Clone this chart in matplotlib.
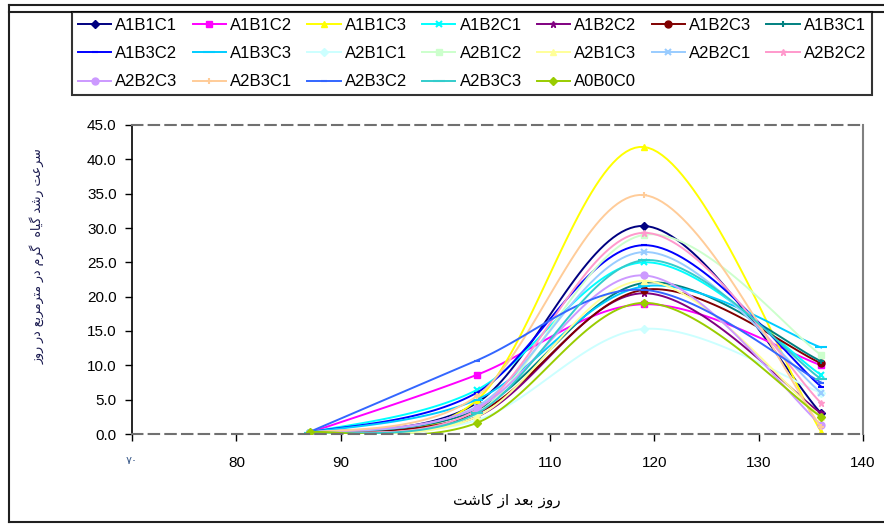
import numpy as np
import matplotlib.pyplot as plt
from matplotlib.lines import Line2D

plt.rcParams['font.family'] = ['Liberation Sans', 'DejaVu Sans']

# sampling days (days after planting)
days = [87, 103, 119, 136]

names = ['A1B1C1', 'A1B1C2', 'A1B1C3', 'A1B2C1', 'A1B2C2', 'A1B2C3', 'A1B3C1',
         'A1B3C2', 'A1B3C3', 'A2B1C1', 'A2B1C2', 'A2B1C3', 'A2B2C1', 'A2B2C2',
         'A2B2C3', 'A2B3C1', 'A2B3C2', 'A2B3C3', 'A0B0C0']

# crop growth rate at each sampling day, one value per treatment (same order as names)
v87 = [0.2, 0.2, 0.1, 0.2, 0.1, 0.2, 0.1, 0.2, 0.2, 0.1, 0.2, 0.1, 0.2, 0.2, 0.2, 0.1, 0.3, 0.1, 0.3]
v103 = [4.5, 8.6, 4.9, 6.4, 2.5, 3.0, 3.5, 6.0, 5.0, 2.0, 3.0, 2.5, 4.0, 3.5, 3.8, 5.5, 10.7, 3.0, 1.6]
v119 = [30.3, 18.9, 41.8, 25.0, 20.5, 21.0, 22.0, 27.5, 21.5, 15.3, 29.0, 22.3, 26.5, 29.3, 23.1, 34.8, 21.0, 25.3, 19.1]
v136 = [3.0, 10.0, 0.3, 8.6, 3.0, 10.3, 10.6, 6.9, 12.6, 6.0, 11.5, 2.5, 6.0, 4.5, 1.3, 1.0, 7.5, 8.0, 2.5]

xlabel = 'روز بعد از کاشت'
ylabel = 'سرعت رشد گیاه  گرم در مترمربع در روز'

# Excel 2003 style line palette and marker cycle
colors = ['#000080', '#FF00FF', '#FFFF00', '#00FFFF', '#800080', '#800000', '#008080',
          '#0000FF', '#00CCFF', '#CCFFFF', '#CCFFCC', '#FFFF99', '#99CCFF', '#FF99CC',
          '#CC99FF', '#FFCC99', '#3366FF', '#33CCCC', '#99CC00']
markers = ['D', 's', '^', 'x', '*', 'o', '+', '_', '_',
           'D', 's', '^', 'x', '*', 'o', '+', '_', '_', 'D']

# Arabic/Persian presentation forms: isolated, final, initial, medial
forms = {
    'ا': ('\uFE8D', '\uFE8E', None, None),
    'ب': ('\uFE8F', '\uFE90', '\uFE91', '\uFE92'),
    'ت': ('\uFE95', '\uFE96', '\uFE97', '\uFE98'),
    'د': ('\uFEA9', '\uFEAA', None, None),
    'ر': ('\uFEAD', '\uFEAE', None, None),
    'ز': ('\uFEAF', '\uFEB0', None, None),
    'س': ('\uFEB1', '\uFEB2', '\uFEB3', '\uFEB4'),
    'ش': ('\uFEB5', '\uFEB6', '\uFEB7', '\uFEB8'),
    'ع': ('\uFEC9', '\uFECA', '\uFECB', '\uFECC'),
    'م': ('\uFEE1', '\uFEE2', '\uFEE3', '\uFEE4'),
    'ه': ('\uFEE9', '\uFEEA', '\uFEEB', '\uFEEC'),
    'و': ('\uFEED', '\uFEEE', None, None),
    'ک': ('\uFB8E', '\uFB8F', '\uFB90', '\uFB91'),
    'گ': ('\uFB92', '\uFB93', '\uFB94', '\uFB95'),
    'ی': ('\uFBFC', '\uFBFD', '\uFBFE', '\uFBFF'),
}


def shape(s):
    # join letters and put them in visual (left to right) order
    out = []
    for i, ch in enumerate(s):
        if ch not in forms:
            out.append(ch)
            continue
        f = forms[ch]
        prev = s[i - 1] if i > 0 else ''
        nxt = s[i + 1] if i + 1 < len(s) else ''
        join_prev = prev in forms and forms[prev][2] is not None
        join_next = f[2] is not None and nxt in forms
        if join_prev and join_next:
            out.append(f[3])
        elif join_prev:
            out.append(f[1])
        elif join_next:
            out.append(f[2])
        else:
            out.append(f[0])
    return ''.join(reversed(out))


def smooth(xs, ys, n=40):
    # bezier smoothing like Excel's "smoothed line"
    p = np.column_stack([xs, ys]).astype(float)
    ext = np.vstack([p[0], p, p[-1]])
    tang = (ext[2:] - ext[:-2]) / 6
    t = np.linspace(0, 1, n)[1:, None]
    pts = [p[:1]]
    idx = [0]
    for i in range(len(p) - 1):
        b0, b3 = p[i], p[i + 1]
        b1, b2 = b0 + tang[i], b3 - tang[i + 1]
        seg = (1 - t)**3 * b0 + 3 * (1 - t)**2 * t * b1 + 3 * (1 - t) * t**2 * b2 + t**3 * b3
        pts.append(seg)
        idx.append(idx[-1] + n - 1)
    c = np.vstack(pts)
    return c[:, 0], c[:, 1], idx


W, H = 884, 524
fig = plt.figure(figsize=(W / 100, H / 100), dpi=100)
ax = fig.add_axes([132 / W, 90 / H, 731 / W, 309 / H])

handles = []
for i, name in enumerate(names):
    ys = [v87[i], v103[i], v119[i], v136[i]]
    sx, sy, idx = smooth(days, ys)
    m = markers[i]
    ms = 4 if m == 'D' else 5
    if m == '_':
        ms = 5 if i in (7, 16) else 8
    line, = ax.plot(sx, sy, color=colors[i], lw=1.4, marker=m, ms=ms, mew=1.5 if m in 'x+_' else 1,
                    markevery=idx, label=name)
    handles.append(line)

ax.set_xlim(70, 140)
ax.set_ylim(0, 45)
ax.set_xticks(range(70, 141, 10))
ax.set_xticklabels(['۷۰'] + [str(v) for v in range(80, 141, 10)])
ax.set_yticks(np.arange(0, 46, 5))
ax.set_yticklabels([f'{v:.1f}' for v in np.arange(0, 46, 5)])
ax.tick_params(direction='out', length=5, width=1, labelsize=11)
ax.tick_params(axis='y', pad=6)
ax.tick_params(axis='x', pad=11)
ax.get_xticklabels()[0].set_fontsize(8)
ax.get_xticklabels()[0].set_color('#3a5a8a')

for side in ['top', 'bottom']:
    ax.spines[side].set_linestyle((0, (5, 3)))
    ax.spines[side].set_color('#707070')
    ax.spines[side].set_linewidth(1.5)
ax.spines['right'].set_color('#808080')
ax.spines['right'].set_linewidth(1.5)
ax.spines['left'].set_color('black')
ax.spines['left'].set_linewidth(1.2)

# legend laid out row by row in 7 columns
order = [r * 7 + j for j in range(7) for r in range(3) if r * 7 + j < len(names)]
leg = fig.legend([handles[k] for k in order], [names[k] for k in order], ncol=7,
                 loc='upper left', bbox_to_anchor=(72 / W, 1 - 12 / H, 800 / W, 0),
                 mode='expand', borderaxespad=0, fontsize=12, handlelength=2.0,
                 handletextpad=0.25, columnspacing=0.6, labelspacing=0.8, borderpad=0.35,
                 fancybox=False, frameon=True)
leg.get_frame().set_edgecolor('black')
leg.get_frame().set_linewidth(1.5)

# outer chart frame
def fline(x, y):
    fig.add_artist(Line2D([v / W for v in x], [1 - v / H for v in y], color='#202020', lw=1.5,
                          transform=fig.transFigure))

fline([9, W], [5, 5])
fline([9, W], [12, 12])
fline([9, 9], [5, 522])
fline([9, W], [522, 522])

fig.text(507 / W, 1 - 500 / H, shape(xlabel), ha='center', va='center', fontsize=11,
         family='DejaVu Sans')
fig.text(37 / W, 1 - 256 / H, shape(ylabel), ha='center', va='center', fontsize=9,
         rotation=90, family='DejaVu Sans', color='#1a1a50')

fig.savefig('out.png', dpi=100)
